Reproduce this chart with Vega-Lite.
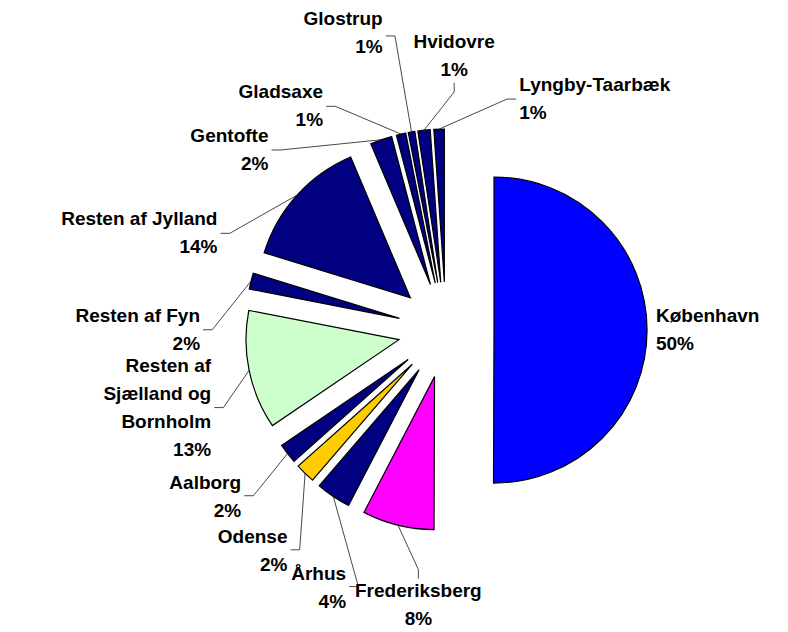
{
  "$schema": "https://vega.github.io/schema/vega-lite/v6.json",
  "width": 788,
  "height": 632,
  "padding": 0,
  "autosize": {"type": "none"},
  "background": "white",
  "config": {"view": {"stroke": null}},
  "data": {
    "values": [
      {"region": "København", "label": "København", "value": 50.2},
      {"region": "Frederiksberg", "label": "Frederiksberg", "value": 7.6},
      {"region": "Århus", "label": "Århus", "value": 3.7},
      {"region": "Odense", "label": "Odense", "value": 2.1},
      {"region": "Aalborg", "label": "Aalborg", "value": 2.1},
      {"region": "Resten af Sjælland og Bornholm", "label": "Resten af\nSjælland og\nBornholm", "value": 12.6},
      {"region": "Resten af Fyn", "label": "Resten af Fyn", "value": 1.7},
      {"region": "Resten af Jylland", "label": "Resten af Jylland", "value": 13.9},
      {"region": "Gentofte", "label": "Gentofte", "value": 2.3},
      {"region": "Gladsaxe", "label": "Gladsaxe", "value": 1.0},
      {"region": "Glostrup", "label": "Glostrup", "value": 0.7},
      {"region": "Hvidovre", "label": "Hvidovre", "value": 1.3},
      {"region": "Lyngby-Taarbæk", "label": "Lyngby-Taarbæk", "value": 1.1}
    ]
  },
  "transform": [
    {"joinaggregate": [{"op": "sum", "field": "value", "as": "total"}]},
    {"window": [{"op": "sum", "field": "value", "as": "cum"}, {"op": "row_number", "as": "rn"}], "frame": [null, 0]},
    {"calculate": "datum.value / datum.total", "as": "share"},
    {"calculate": "(datum.cum - datum.value) / datum.total", "as": "t0"},
    {"calculate": "datum.cum / datum.total", "as": "t1"},
    {"calculate": "(datum.t0 + datum.t1) * PI", "as": "mid"},
    {"calculate": "datum.rn - 1", "as": "i"},
    {"calculate": "(datum.t0 + datum.t1) * 180 - 17 * datum.i", "as": "a"},
    {"window": [{"op": "max", "field": "a", "as": "fmax"}], "sort": [{"field": "i"}], "frame": [null, 0]},
    {"window": [{"op": "min", "field": "a", "as": "bmin"}], "sort": [{"field": "i"}], "frame": [0, null]},
    {"calculate": "((datum.fmax + datum.bmin) / 2 + 17 * datum.i) * PI / 180", "as": "L"},
    {"calculate": "sin(datum.L)", "as": "sL"},
    {"calculate": "cos(datum.L)", "as": "cL"},
    {"calculate": "0.3137 * sin(datum.mid)", "as": "cx"},
    {"calculate": "0.3137 * cos(datum.mid)", "as": "cy"},
    {"calculate": "datum.cx + sin(datum.mid)", "as": "ox"},
    {"calculate": "datum.cy + cos(datum.mid)", "as": "oy"},
    {"calculate": "(datum.i % 2 == 0 && datum.cL > 0.95) ? 1.1 : 1", "as": "m"},
    {"calculate": "-0.1176 + 1.49 * datum.m * datum.sL", "as": "lx"},
    {"calculate": "1.647 * datum.m * datum.cL", "as": "ly"},
    {"calculate": "datum.sL > 0.15 ? 'left' : (datum.sL < -0.15 ? 'right' : 'center')", "as": "al"},
    {"calculate": "datum.cL > 0.95 ? 'bottom' : (datum.cL < -0.5 ? 'top' : 'middle')", "as": "bl"},
    {"calculate": "length(split(datum.label, '\\n')) + 1", "as": "nl"},
    {"calculate": "datum.ly + (datum.bl == 'middle' ? (datum.nl - 1) * 14 / 153 : (datum.bl == 'bottom' ? (datum.nl - 1) * 28 / 153 : 0))", "as": "ty"},
    {"calculate": "datum.lx + (datum.al == 'left' ? -0.02 : (datum.al == 'right' ? 0.02 : 0))", "as": "ex"},
    {"calculate": "datum.al == 'center' ? datum.ly + (datum.bl == 'bottom' ? -0.02 : 0.02) : datum.ly + (datum.bl == 'bottom' ? 0.14 : (datum.bl == 'top' ? -0.14 : 0))", "as": "ey"},
    {"calculate": "datum.ex + (datum.al == 'left' ? -0.06 : (datum.al == 'right' ? 0.06 : 0))", "as": "kx"},
    {"calculate": "datum.ey + (datum.al == 'center' ? (datum.bl == 'bottom' ? -0.06 : 0.06) : 0)", "as": "ky"},
    {"calculate": "sqrt(pow(datum.kx - datum.ox, 2) + pow(datum.ky - datum.oy, 2))", "as": "len"},
    {"calculate": "datum.label + '\\n' + format(datum.share, '.0%')", "as": "txt"}
  ],
  "layer": [
    {
      "mark": {"type": "arc", "radius": 153, "stroke": "black", "strokeWidth": 1.2},
      "encoding": {
        "x": {"field": "cx", "type": "quantitative", "scale": {"domain": [-2.915, 2.2353], "nice": false, "zero": false}, "axis": null},
        "y": {"field": "cy", "type": "quantitative", "scale": {"domain": [-1.9739, 2.1569], "nice": false, "zero": false}, "axis": null},
        "theta": {"field": "t0", "type": "quantitative", "scale": {"domain": [0, 1], "range": [0, 6.283185307179586]}, "stack": null},
        "theta2": {"field": "t1"},
        "color": {
          "field": "region",
          "type": "nominal",
          "scale": {
            "domain": ["København", "Frederiksberg", "Århus", "Odense", "Aalborg", "Resten af Sjælland og Bornholm", "Resten af Fyn", "Resten af Jylland", "Gentofte", "Gladsaxe", "Glostrup", "Hvidovre", "Lyngby-Taarbæk"],
            "range": ["#0000FF", "#FF00FF", "#000080", "#FFCC00", "#000080", "#CCFFCC", "#000080", "#000080", "#000080", "#000080", "#000080", "#000080", "#000080"]
          },
          "legend": null
        }
      }
    },
    {
      "transform": [{"filter": "datum.len > 0.15"}],
      "mark": {"type": "rule", "color": "#333333", "strokeWidth": 0.9},
      "encoding": {
        "x": {"field": "ox", "type": "quantitative", "scale": {"domain": [-2.915, 2.2353], "nice": false, "zero": false}, "axis": null},
        "y": {"field": "oy", "type": "quantitative", "scale": {"domain": [-1.9739, 2.1569], "nice": false, "zero": false}, "axis": null},
        "x2": {"field": "kx"},
        "y2": {"field": "ky"}
      }
    },
    {
      "transform": [{"filter": "datum.len > 0.15"}],
      "mark": {"type": "rule", "color": "#333333", "strokeWidth": 0.9},
      "encoding": {
        "x": {"field": "kx", "type": "quantitative", "scale": {"domain": [-2.915, 2.2353], "nice": false, "zero": false}, "axis": null},
        "y": {"field": "ky", "type": "quantitative", "scale": {"domain": [-1.9739, 2.1569], "nice": false, "zero": false}, "axis": null},
        "x2": {"field": "ex"},
        "y2": {"field": "ey"}
      }
    },
    {
      "mark": {
        "type": "text",
        "font": "Liberation Sans",
        "fontSize": 19,
        "fontWeight": "bold",
        "lineHeight": 28,
        "lineBreak": "\n",
        "color": "black",
        "align": {"expr": "datum.al"},
        "baseline": {"expr": "datum.bl"}
      },
      "encoding": {
        "x": {"field": "lx", "type": "quantitative", "scale": {"domain": [-2.915, 2.2353], "nice": false, "zero": false}, "axis": null},
        "y": {"field": "ty", "type": "quantitative", "scale": {"domain": [-1.9739, 2.1569], "nice": false, "zero": false}, "axis": null},
        "text": {"field": "txt", "type": "nominal"}
      }
    }
  ]
}
